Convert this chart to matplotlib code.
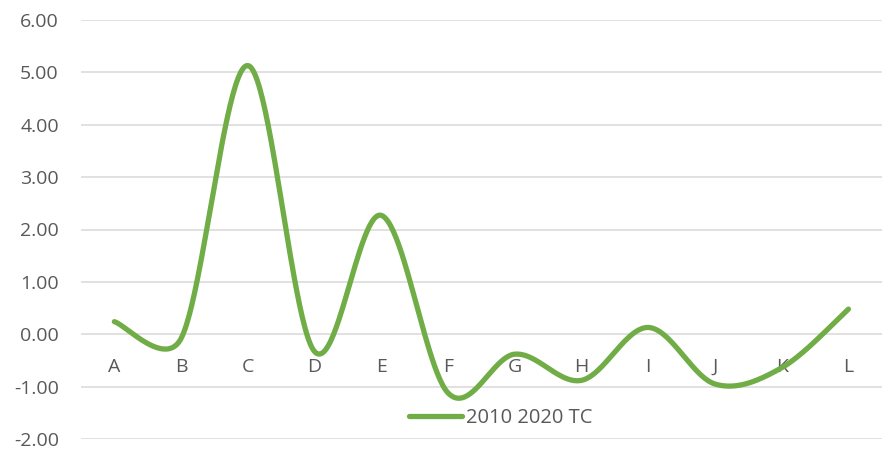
import numpy as np
import matplotlib.pyplot as plt

categories = ["A", "B", "C", "D", "E", "F", "G", "H", "I", "J", "K", "L"]
tc_2010_2020 = [0.24, -0.08, 5.13, -0.33, 2.27, -1.12, -0.38, -0.88, 0.13, -0.95, -0.64, 0.48]
series_name = "2010 2020 TC"
y_ticks = [-2, -1, 0, 1, 2, 3, 4, 5, 6]


def smooth_excel(pts, n=50):
    # Excel-style smoothed line: cubic Bezier with 1/6 tangents,
    # control arms clamped to half the segment length (in screen space)
    pts = np.asarray(pts, float)
    padded = np.vstack([pts[0], pts, pts[-1]])
    t = np.linspace(0, 1, n)[:, None]
    out = []
    for i in range(len(pts) - 1):
        p0, p1, p2, p3 = padded[i], padded[i + 1], padded[i + 2], padded[i + 3]
        d12 = np.linalg.norm(p2 - p1)
        d02 = np.linalg.norm(p2 - p0)
        d13 = np.linalg.norm(p3 - p1)
        f1 = 1 / 6 if d02 / 6 < d12 / 2 else d12 / (2 * d02)
        f2 = 1 / 6 if d13 / 6 < d12 / 2 else d12 / (2 * d13)
        b1 = p1 + f1 * (p2 - p0)
        b2 = p2 - f2 * (p3 - p1)
        seg = (1 - t) ** 3 * p1 + 3 * (1 - t) ** 2 * t * b1 + 3 * (1 - t) * t ** 2 * b2 + t ** 3 * p2
        out.append(seg if i == 0 else seg[1:])
    return np.vstack(out)


plt.rcParams["font.family"] = ["Open Sans", "DejaVu Sans"]

fig = plt.figure(figsize=(8.88, 4.5), dpi=100)
ax = fig.add_axes([0.0912, 0.0244, 0.9018, 0.9312])
ax.set_xlim(-0.5, len(categories) - 0.5)
ax.set_ylim(-2, 6)

x = np.arange(len(categories))
disp = ax.transData.transform(np.column_stack([x, tc_2010_2020]))
curve = ax.transData.inverted().transform(smooth_excel(disp))
ax.plot(curve[:, 0], curve[:, 1], color="#70AD47", lw=3.8, solid_capstyle="round",
        label=series_name, zorder=3)

ax.set_yticks(y_ticks)
ax.set_yticklabels([f"{v:.2f}" for v in y_ticks])
ax.set_xticks(x)
ax.set_xticklabels(categories)

ax.grid(axis="y", color="#D9D9D9", lw=1.1)
ax.set_axisbelow(True)
for s in ["top", "right", "left"]:
    ax.spines[s].set_visible(False)
ax.spines["bottom"].set_position(("data", 0))
ax.spines["bottom"].set_visible(False)

ax.tick_params(axis="y", length=0, pad=16, labelsize=14, labelcolor="#595959")
ax.tick_params(axis="x", length=0, pad=17, labelsize=14, labelcolor="#595959")

ax.legend(loc="center", bbox_to_anchor=(0.524, 0.05), frameon=False, fontsize=14.5,
          handlelength=2.6, handletextpad=0.2, labelcolor="#595959")

fig.savefig("out.png", dpi=100)
